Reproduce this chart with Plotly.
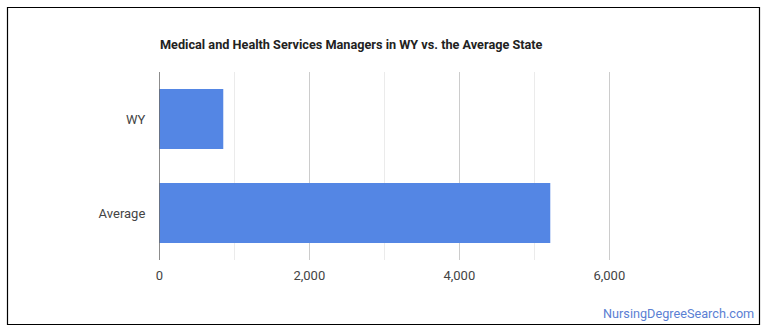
import plotly.graph_objects as go

categories = ["WY", "Average"]
values = [853, 5213]
tick_vals = [0, 2000, 4000, 6000]
tick_text = ["0", "2,000", "4,000", "6,000"]

W, H = 770, 335
px_l = 159.3
x_max = 6900
px_r = px_l + x_max * 0.075
py_t, py_b = 72.0, 260.0

fig = go.Figure(go.Bar(
    x=values, y=categories, orientation="h",
    marker=dict(color="#5486E4", line=dict(width=0)),
    hoverinfo="x+y",
))

fig.update_layout(
    width=W, height=H,
    margin=dict(l=0, r=0, t=0, b=0, autoexpand=False),
    paper_bgcolor="white", plot_bgcolor="white",
    bargap=0.362,
    showlegend=False,
    font=dict(family="Roboto, Arial, sans-serif", size=13, color="#444"),
    xaxis=dict(
        domain=[px_l / W, px_r / W],
        range=[0, x_max],
        tickvals=tick_vals, ticktext=tick_text,
        showgrid=True, gridcolor="#cccccc", gridwidth=1,
        minor=dict(dtick=1000, tick0=0, showgrid=True, gridcolor="#ebebeb", gridwidth=1),
        zeroline=False, showline=False, ticks="",
        ticklabelstandoff=6,
        tickfont=dict(size=13, color="#444"),
        fixedrange=True,
    ),
    yaxis=dict(
        domain=[1 - py_b / H, 1 - py_t / H],
        categoryorder="array", categoryarray=categories,
        autorange="reversed",
        showgrid=False, zeroline=False, showline=False, ticks="",
        ticklabelstandoff=13,
        tickfont=dict(size=13, color="#444"),
        fixedrange=True,
    ),
    shapes=[
        dict(type="line", xref="x", yref="paper", x0=0, x1=0,
             y0=1 - py_b / H, y1=1 - py_t / H, line=dict(color="#333333", width=1)),
        dict(type="rect", xref="paper", yref="paper",
             x0=7.5 / W, x1=759.5 / W, y0=1 - 324.5 / H, y1=1 - 7.5 / H,
             line=dict(color="#000000", width=1.2), fillcolor="rgba(0,0,0,0)"),
    ],
    annotations=[
        dict(text="<b>Medical and Health Services Managers in WY vs. the Average State</b>",
             xref="paper", yref="paper", x=158 / W, y=1 - 45 / H,
             xanchor="left", yanchor="middle", showarrow=False,
             font=dict(size=12.7, color="#222222", family="Roboto, Arial, sans-serif")),
        dict(text="NursingDegreeSearch.com",
             xref="paper", yref="paper", x=756 / W, y=1 - 313 / H,
             xanchor="right", yanchor="middle", showarrow=False,
             font=dict(size=12.7, color="#5b80d3", family="Roboto, Arial, sans-serif")),
    ],
)

fig.write_html("out.html")
